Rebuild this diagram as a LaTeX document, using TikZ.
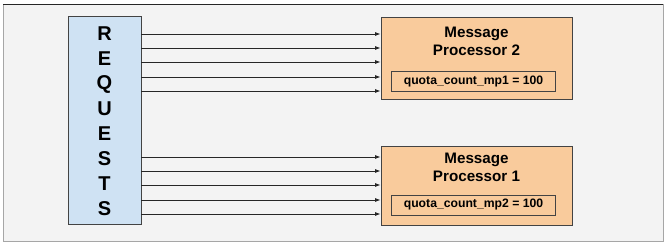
\documentclass[tikz,border=0pt]{standalone}
\usepackage{fontspec}
\setmainfont{Liberation Sans}
\usetikzlibrary{arrows.meta}
\definecolor{bgGray}{HTML}{F3F3F3}
\definecolor{reqBlue}{HTML}{CFE2F3}
\definecolor{mpOrange}{HTML}{F9CB9C}
\definecolor{lineGray}{HTML}{434343}
\begin{document}
\begin{tikzpicture}[x=1pt,y=-1pt,
  reqbox/.style={draw=lineGray,fill=reqBlue,line width=0.9pt,minimum width=73pt,minimum height=208pt,inner sep=0pt},
  mpbox/.style={draw=lineGray,fill=mpOrange,line width=0.9pt,minimum width=191pt,inner sep=0pt},
  mpname/.style={align=center,font=\bfseries\fontsize{15.2}{18}\selectfont},
  quotabox/.style={draw=lineGray,line width=0.9pt,minimum width=164pt,minimum height=20pt,inner sep=0pt,font=\bfseries\fontsize{12.2}{14}\selectfont},
  arr/.style={draw=black!85,line width=0.8pt,-{Latex[length=5.5pt,width=4pt]}}]
\useasboundingbox (0,0) rectangle (665,244);
% frame
\fill[bgGray] (3,4) rectangle (663,241);
\draw[gray!70,line width=0.8pt] (3,4) -- (3,241) -- (663,241) -- (663,4);
\draw[black!85,line width=1pt] (3,4) -- (663,4);
% requests column
\node[reqbox] (req) at (104.5,120) {};
\foreach \ch [count=\i from 0] in {R,E,Q,U,E,S,T,S}
  \node[font=\bfseries\fontsize{20}{24}\selectfont] (ch\i) at (104.5,34+25*\i) {\ch};
% message processors
\node[mpbox,minimum height=82pt] (mp2) at (476.5,58) {};
\node[mpname] (mp2name) at (476.5,41) {Message\\Processor 2};
\node[quotabox] (q2) at (473.5,81.5) {quota\_count\_mp1 = 100};
\node[mpbox,minimum height=79pt] (mp1) at (476.5,185.5) {};
\node[mpname] (mp1name) at (476.5,167) {Message\\Processor 1};
\node[quotabox] (q1) at (473.5,205) {quota\_count\_mp2 = 100};
% request arrows
\foreach \y in {34,48,62,77,91}
  \draw[arr] (req.east |- 0,\y) -- (mp2.west |- 0,\y);
\foreach \y in {157,171,185,200,214}
  \draw[arr] (req.east |- 0,\y) -- (mp1.west |- 0,\y);
\end{tikzpicture}
\end{document}
